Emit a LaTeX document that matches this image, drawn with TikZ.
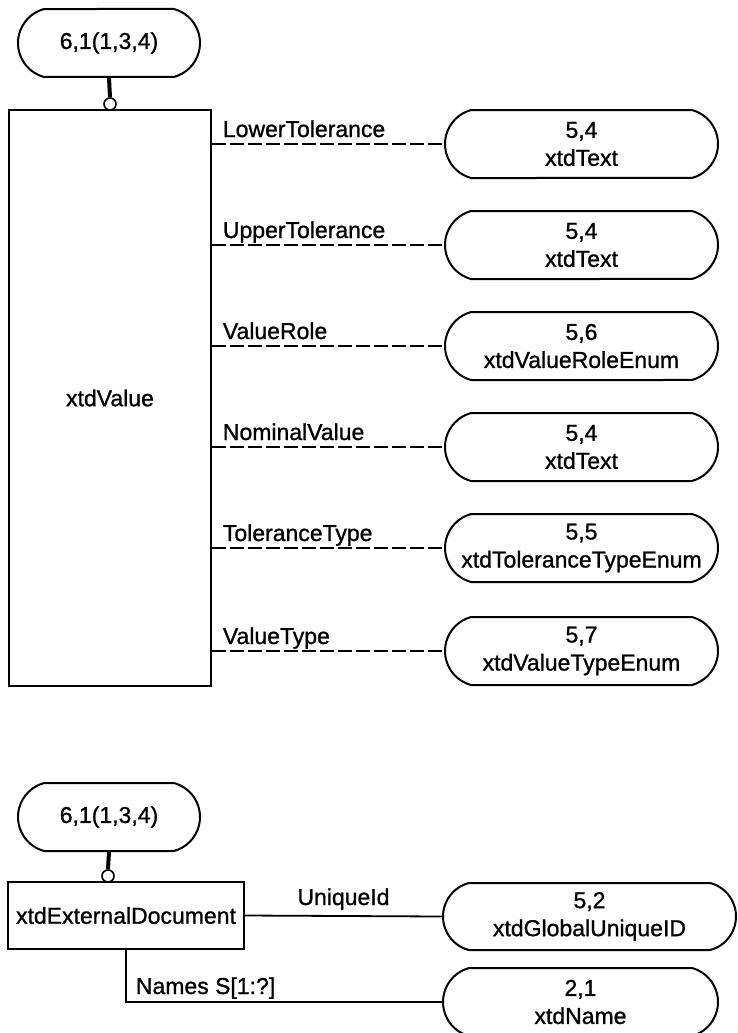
\documentclass[tikz,border=0pt]{standalone}
\usepackage{fontspec}
\setmainfont{Liberation Sans}[BoldFont={Liberation Sans}, BoldFeatures={FakeBold=1}]
\usetikzlibrary{shapes.misc}

\begin{document}
\begin{tikzpicture}[x=1pt, y=-1pt,
	every node/.style={font=\fontsize{23}{28}\selectfont\bfseries},
	pill/.style={shape=rounded rectangle, rounded rectangle arc length=150, draw=black, line width=2pt, minimum height=68pt, inner sep=0pt, align=center},
	entity/.style={shape=rectangle, draw=black, line width=2pt, inner sep=0pt},
	ring/.style={shape=circle, draw=black, fill=white, line width=1.6pt, minimum size=12pt, inner sep=0pt},
	rolename/.style={inner sep=0pt},
	stem/.style={-, line width=4pt},
	attr/.style={-, line width=1.8pt, dash pattern=on 14pt off 4pt},
	link/.style={-, line width=1.8pt}]

	\useasboundingbox (0,0) rectangle (737,1033);

	% xtdValue
	\node[pill, minimum width=182pt] (valref) at (109, 43) {6,1(1,3,4)};
	\node[ring] (valring) at (110, 104) {};
	\node[entity, minimum width=202pt, minimum height=576pt] (value) at (110, 398) {xtdValue};
	\draw[stem] (valref.south) -- (valring.north);

	\node[pill, minimum width=273pt] (lower)   at (581.5, 144) {5,4\\xtdText};
	\node[pill, minimum width=273pt] (upper)   at (581.5, 245) {5,4\\xtdText};
	\node[pill, minimum width=273pt] (role)    at (581.5, 346) {5,6\\xtdValueRoleEnum};
	\node[pill, minimum width=273pt] (nominal) at (581.5, 447) {5,4\\xtdText};
	\node[pill, minimum width=273pt] (toltype) at (581.5, 548) {5,5\\xtdToleranceTypeEnum};
	\node[pill, minimum width=273pt] (valtype) at (581.5, 651) {5,7\\xtdValueTypeEnum};

	\foreach \p/\t in {lower/LowerTolerance, upper/UpperTolerance, role/ValueRole,
		nominal/NominalValue, toltype/ToleranceType, valtype/ValueType}
		\path[attr] (value.east |- \p.west) edge node[rolename, pos=0, anchor=base west, xshift=10pt, yshift=7pt]{\t} (\p.west);

	% xtdExternalDocument
	\node[pill, minimum width=182pt] (docref) at (109, 817) {6,1(1,3,4)};
	\node[ring] (docring) at (108, 876) {};
	\node[entity, minimum width=236pt, minimum height=67pt] (document) at (126, 915.5) {xtdExternalDocument};
	\draw[stem] (docref.south) -- (docring.north);

	\node[pill, minimum width=293pt, minimum height=67pt] (uid) at (589.5, 916.5) {5,2\\xtdGlobalUniqueID};
	\node[pill, minimum width=275pt] (names) at (580.5, 1002) {2,1\\xtdName};

	\path[link] (document.east) edge node[rolename, midway, anchor=base, yshift=11pt]{UniqueId} (uid.west);
	\draw[link] (document.south) |- node[rolename, pos=0.5, anchor=base west, xshift=9pt, yshift=8pt]{Names S[1:?]} (names.west);

\end{tikzpicture}
\end{document}
